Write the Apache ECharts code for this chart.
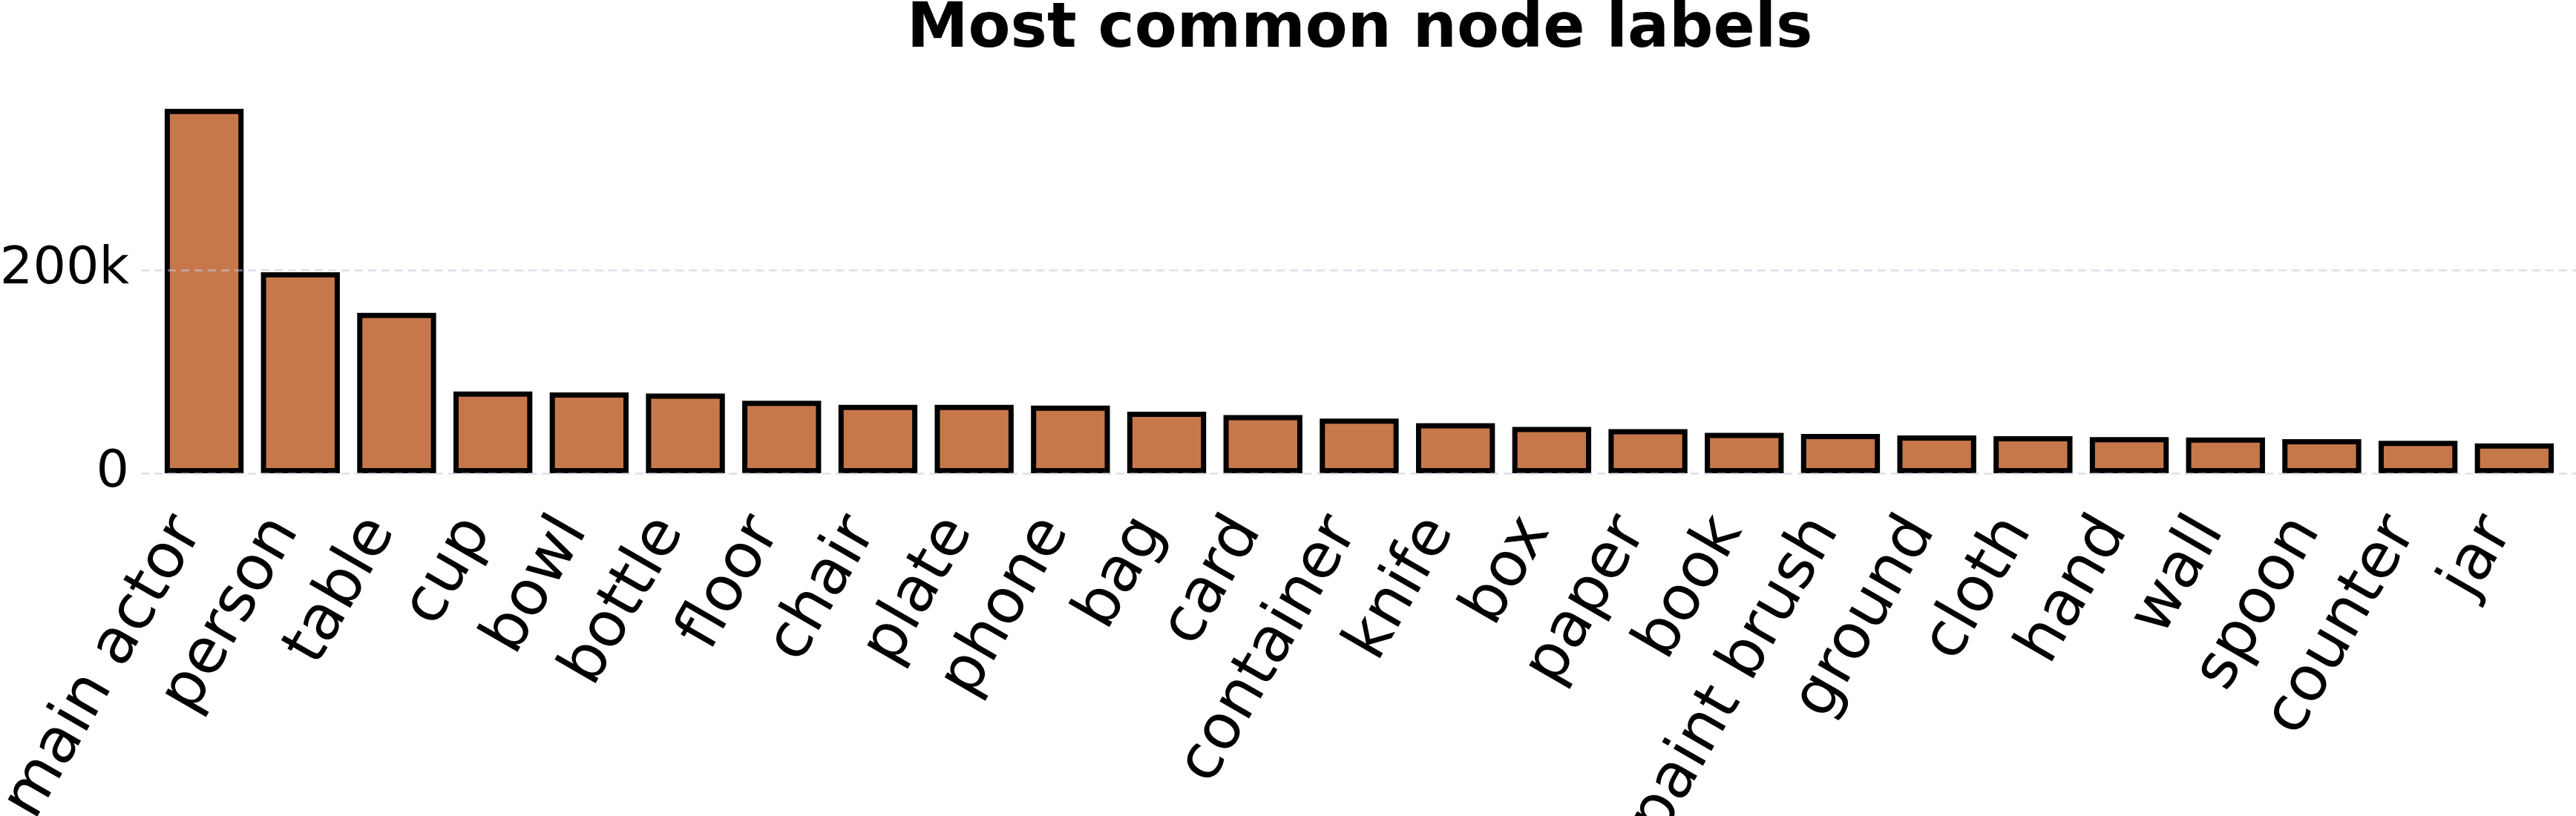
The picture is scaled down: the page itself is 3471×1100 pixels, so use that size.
<!DOCTYPE html>
<html>
<head>
<meta charset="utf-8">
<script src="https://cdn.jsdelivr.net/npm/echarts@6/dist/echarts.min.js"></script>
<style>html,body{margin:0;padding:0;background:#fff;}#c{width:3471px;height:1100px;}</style>
</head>
<body>
<div id="c"></div>
<script>
const categories = ['main actor','person','table','cup','bowl','bottle','floor','chair','plate','phone','bag','card','container','knife','box','paper','book','paint brush','ground','cloth','hand','wall','spoon','counter','jar'];
const counts = [359000,198000,158000,80600,79600,78600,71500,67500,67500,66600,60700,57400,53900,49300,45700,43400,39800,38800,37200,36600,35600,35300,33600,32000,29400];
const yTickValues = [0, 200000];
const yTickLabels = ['0', '200k'];
const titleText = 'Most common node labels';

const FONT = 'DejaVu Sans';
const chart = echarts.init(document.getElementById('c'), null, {renderer: 'canvas'});
chart.setOption({
  backgroundColor: '#ffffff',
  animation: false,
  title: {
    text: titleText,
    left: 1217,
    top: -5,
    textStyle: {fontFamily: FONT, fontWeight: 'bold', fontSize: 83, color: '#000'}
  },
  grid: [
    {left: 210.2, right: 18.3, top: 118, bottom: 462, containLabel: false, outerBoundsMode: 'none'},
    {left: 190, right: 0, top: 364.3, bottom: 462, containLabel: false, outerBoundsMode: 'none'},
    {left: 189.2, right: 39.3, top: 118, bottom: 462, containLabel: false, outerBoundsMode: 'none'}
  ],
  xAxis: [
    {
      type: 'category', gridIndex: 0, data: categories, boundaryGap: true,
      axisLine: {show: false}, axisTick: {show: false}, axisLabel: {show: false}
    },
    {type: 'value', gridIndex: 1, min: 0, max: 1, show: false},
    {
      type: 'category', gridIndex: 2, data: categories, boundaryGap: true,
      axisLine: {show: false}, axisTick: {show: false}, splitLine: {show: false},
      axisLabel: {
        interval: 0, rotate: 60, margin: 66, fontFamily: FONT, fontSize: 84, color: '#000',
        hideOverlap: false
      }
    }
  ],
  yAxis: [
    {type: 'value', gridIndex: 0, min: 0, max: 380000, show: false},
    {
      type: 'value', gridIndex: 1, min: 0, max: 200000, interval: 200000, z: 5,
      axisLine: {show: false}, axisTick: {show: false},
      axisLabel: {
        margin: 16, fontFamily: FONT, fontSize: 70, color: '#000',
        formatter: function (v) { const i = yTickValues.indexOf(v); return i >= 0 ? yTickLabels[i] : ''; }
      },
      splitLine: {show: true, lineStyle: {color: 'rgba(195,202,220,0.5)', width: 3, type: [11, 7]}}
    },
    {type: 'value', gridIndex: 2, min: 0, max: 1, show: false}
  ],
  series: [{
    type: 'bar', xAxisIndex: 0, yAxisIndex: 0, data: counts, barWidth: '82%',
    itemStyle: {color: '#c6784b', borderColor: '#000', borderWidth: 7}
  }]
});
</script>
</body>
</html>
